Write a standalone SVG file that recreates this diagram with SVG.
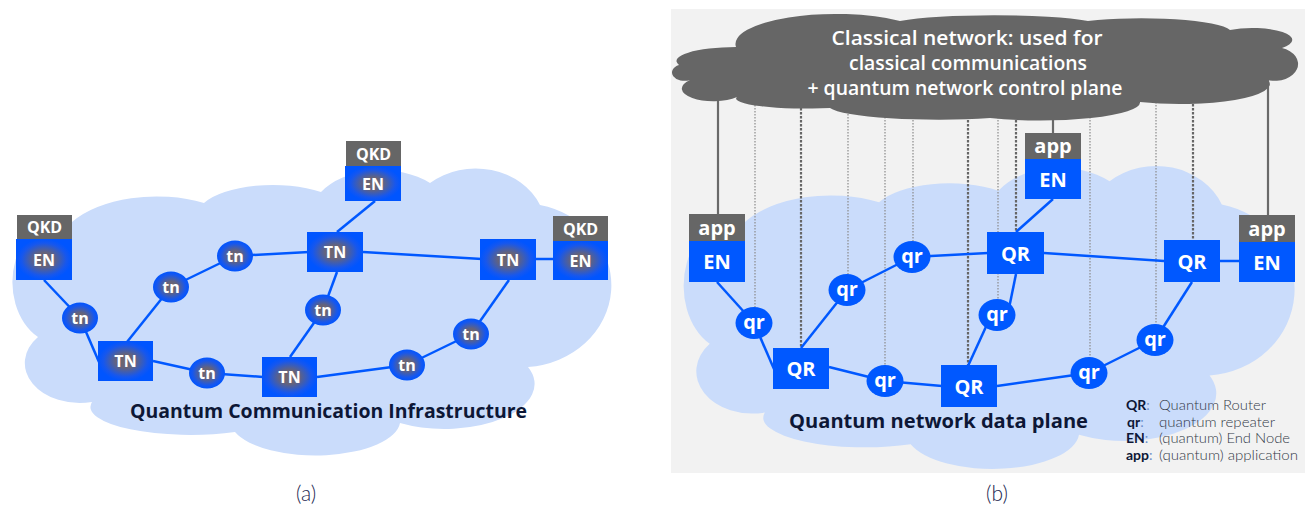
<svg xmlns="http://www.w3.org/2000/svg" xmlns:xlink="http://www.w3.org/1999/xlink" width="1305" height="508" viewBox="0 0 1305 508">
<style>
.cloud{fill:#cadcfb}
.link{stroke:#0058ff;stroke-width:2.5;fill:none}
.gbox{fill:url(#ng)}
.bbox{fill:#0058ff}
.tag{fill:#666666}
.t{font-family:"Open Sans","Noto Sans",sans-serif;font-weight:700;fill:#ffffff;text-anchor:middle;dominant-baseline:central}
.ta{font-size:16px}
.tb{font-size:20px}
.title{font-family:"Open Sans","Noto Sans",sans-serif;font-weight:700;font-size:20px;fill:#0d1736}
.ctext{font-family:"Open Sans","Noto Sans",sans-serif;font-weight:600;font-size:20px;fill:#ffffff;text-anchor:middle}
.dotA{stroke:#8a8a8a;stroke-width:1.2;stroke-dasharray:1.5 1.5;fill:none}
.dotB{stroke:#666666;stroke-width:2.2;stroke-dasharray:2.5 1.5;fill:none}
.solid{stroke:#6a6a6a;stroke-width:2.2;fill:none}
.lk{font-family:Lato,"Open Sans",sans-serif;font-weight:700;font-size:14px;fill:#0d1736}
.lc{fill:#6b8fc9;font-weight:400}
.ld{font-family:Lato,"Open Sans",sans-serif;font-weight:300;font-size:14px;fill:#333a48}
.cap{font-family:Lato,"Open Sans",sans-serif;font-weight:300;font-size:21px;fill:#1c2650;text-anchor:middle}
</style>
<defs>
<radialGradient id="ng" cx="0.5" cy="0.5" r="0.5">
<stop offset="0" stop-color="#716669"/>
<stop offset="0.35" stop-color="#64637c"/>
<stop offset="0.8" stop-color="#1657ee"/>
<stop offset="1" stop-color="#0055ff"/>
</radialGradient>
<path id="cloudShape" d="M38,337 A48,62 0 0 1 72,222 A100,55 0 0 1 204,203 A75,30 0 0 1 321,192 A70,45 0 0 1 430,183 A70,60 0 0 1 540,205 A90,82 0 0 1 528,367 A90,45 0 0 1 400,423 A85,35 0 0 1 235,432 A100,28 0 0 1 92,402 A55,40 0 0 1 38,337 Z"/>
</defs>

<!-- ===== Panel (a) ===== -->
<use href="#cloudShape" class="cloud"/>
<text class="title" x="130" y="418" textLength="397" lengthAdjust="spacingAndGlyphs">Quantum Communication Infrastructure</text>

<g id="links-a">
<path class="link" d="M44,280 L80,318"/>
<path class="link" d="M80,318 L99,362"/>
<path class="link" d="M127,342 L171,287"/>
<path class="link" d="M171,287 L235,256"/>
<path class="link" d="M235,256 L309,252"/>
<path class="link" d="M337,232 L375,201"/>
<path class="link" d="M363,252 L482,259"/>
<path class="link" d="M536,259 L555,259"/>
<path class="link" d="M337,272 L323,310"/>
<path class="link" d="M323,310 L290,357"/>
<path class="link" d="M153,361 L207,373"/>
<path class="link" d="M207,373 L263,377"/>
<path class="link" d="M317,377 L407,365"/>
<path class="link" d="M407,365 L471,334"/>
<path class="link" d="M471,334 L509,280"/>
</g>

<g id="a-en-left">
<rect class="tag" x="17" y="215" width="55" height="24"/>
<text class="t ta" x="44.5" y="227">QKD</text>
<rect class="gbox" x="16" y="239" width="56" height="41"/>
<text class="t ta" x="44" y="259.5">EN</text>
</g>
<g id="a-en-top">
<rect class="tag" x="346" y="141" width="55" height="25"/>
<text class="t ta" x="373.5" y="153.5">QKD</text>
<rect class="gbox" x="345" y="166" width="56" height="35"/>
<text class="t ta" x="373" y="183.5">EN</text>
</g>
<g id="a-en-right">
<rect class="tag" x="553" y="216" width="55" height="25"/>
<text class="t ta" x="580.5" y="228.5">QKD</text>
<rect class="gbox" x="553" y="241" width="55" height="39"/>
<text class="t ta" x="580.5" y="260.5">EN</text>
</g>
<g id="a-tn-ll"><rect class="gbox" x="98" y="341" width="55" height="40"/><text class="t ta" x="125.5" y="361">TN</text></g>
<g id="a-tn-top"><rect class="gbox" x="307" y="232" width="56" height="40"/><text class="t ta" x="335" y="252">TN</text></g>
<g id="a-tn-bot"><rect class="gbox" x="262" y="357" width="55" height="40"/><text class="t ta" x="289.5" y="377">TN</text></g>
<g id="a-tn-right"><rect class="gbox" x="480" y="239" width="56" height="41"/><text class="t ta" x="508" y="259.5">TN</text></g>
<g id="a-tn1"><ellipse class="gbox" cx="80" cy="318" rx="18" ry="15.5"/><text class="t ta" x="80" y="318">tn</text></g>
<g id="a-tn2"><ellipse class="gbox" cx="171" cy="287" rx="18" ry="15.5"/><text class="t ta" x="171" y="287">tn</text></g>
<g id="a-tn3"><ellipse class="gbox" cx="235" cy="256" rx="18" ry="15.5"/><text class="t ta" x="235" y="256">tn</text></g>
<g id="a-tn4"><ellipse class="gbox" cx="207" cy="373" rx="18" ry="15.5"/><text class="t ta" x="207" y="373">tn</text></g>
<g id="a-tn5"><ellipse class="gbox" cx="323" cy="310" rx="18" ry="15.5"/><text class="t ta" x="323" y="310">tn</text></g>
<g id="a-tn6"><ellipse class="gbox" cx="407" cy="365" rx="18" ry="15.5"/><text class="t ta" x="407" y="365">tn</text></g>
<g id="a-tn7"><ellipse class="gbox" cx="471" cy="334" rx="18" ry="15.5"/><text class="t ta" x="471" y="334">tn</text></g>

<text class="cap" x="306" y="501">(a)</text>

<!-- ===== Panel (b) ===== -->
<rect x="671" y="9" width="634" height="464" fill="#f2f2f2"/>
<use href="#cloudShape" class="cloud" transform="translate(671,-12) scale(1.02,1.056)"/>

<g id="control-links">
<path class="dotA" d="M755,60 L755,323"/>
<path class="dotB" d="M801,60 L801,360"/>
<path class="dotA" d="M848,60 L848,290"/>
<path class="dotA" d="M885,60 L885,381"/>
<path class="dotA" d="M913,60 L913,257"/>
<path class="dotB" d="M968,60 L968,380"/>
<path class="dotA" d="M998,60 L998,315"/>
<path class="dotB" d="M1016,60 L1016,250"/>
<path class="dotA" d="M1090,60 L1090,373"/>
<path class="dotA" d="M1156,60 L1156,340"/>
<path class="dotB" d="M1193,60 L1193,255"/>
<path class="solid" d="M718,60 L718,215"/>
<path class="solid" d="M1053,60 L1053,134"/>
<path class="solid" d="M1268,60 L1268,216"/>
</g>

<g id="classical-network">
<path fill="#666666" d="M679,65 A60,14 0 0 1 736,47 A100,30 0 0 1 900,21 A110,12 0 0 1 1088,21 A90,14 0 0 1 1230,30 A40,12 0 0 1 1282,48 A22,16 0 0 1 1268,80 A90,20 0 0 1 1140,102 A100,18 0 0 1 990,118 A110,14 0 0 1 830,108 A70,10 0 0 1 737,97 A30,12 0 0 1 690,80 A12,8 0 0 1 679,65 Z"/>
<text class="ctext" x="967" y="45" textLength="271" lengthAdjust="spacingAndGlyphs">Classical network: used for</text>
<text class="ctext" x="968" y="70" textLength="238" lengthAdjust="spacingAndGlyphs">classical communications</text>
<text class="ctext" x="965" y="95" textLength="315" lengthAdjust="spacingAndGlyphs">+ quantum network control plane</text>
</g>

<g id="links-b">
<path class="link" d="M717,282 L754,323"/>
<path class="link" d="M754,323 L774,369"/>
<path class="link" d="M801,348 L847,290"/>
<path class="link" d="M847,290 L912,257"/>
<path class="link" d="M912,257 L988,253"/>
<path class="link" d="M829,367 L885,381"/>
<path class="link" d="M885,381 L942,386"/>
<path class="link" d="M968,366 L990,318"/>
<path class="link" d="M1007,318 L1016,274"/>
<path class="link" d="M1016,232 L1053,199"/>
<path class="link" d="M1044,253 L1164,261"/>
<path class="link" d="M1220,261 L1239,261"/>
<path class="link" d="M1192,282 L1155,340"/>
<path class="link" d="M1155,340 L1089,373"/>
<path class="link" d="M1089,373 L997,386"/>
</g>

<text class="title" x="789" y="428" textLength="299" lengthAdjust="spacingAndGlyphs">Quantum network data plane</text>

<g id="b-en-left">
<rect class="tag" x="689" y="214" width="56" height="27"/>
<text class="t tb" x="717" y="227">app</text>
<rect class="bbox" x="689" y="241" width="56" height="41"/>
<text class="t tb" x="717" y="261.5">EN</text>
</g>
<g id="b-en-top">
<rect class="tag" x="1025" y="133" width="56" height="26"/>
<text class="t tb" x="1053" y="145.5">app</text>
<rect class="bbox" x="1025" y="159" width="56" height="40"/>
<text class="t tb" x="1053" y="179">EN</text>
</g>
<g id="b-en-right">
<rect class="tag" x="1239" y="215" width="56" height="27"/>
<text class="t tb" x="1267" y="228">app</text>
<rect class="bbox" x="1239" y="242" width="56" height="40"/>
<text class="t tb" x="1267" y="262">EN</text>
</g>
<g id="b-qr-ll"><rect class="bbox" x="773" y="348" width="56" height="41"/><text class="t tb" x="801" y="368.5">QR</text></g>
<g id="b-qr-bot"><rect class="bbox" x="941" y="365" width="56" height="42"/><text class="t tb" x="969" y="386">QR</text></g>
<g id="b-qr-top"><rect class="bbox" x="987" y="232" width="57" height="42"/><text class="t tb" x="1015.5" y="253">QR</text></g>
<g id="b-qr-right"><rect class="bbox" x="1164" y="240" width="56" height="42"/><text class="t tb" x="1192" y="261">QR</text></g>
<g id="b-r1"><ellipse class="bbox" cx="754" cy="323" rx="18.5" ry="16"/><text class="t tb" x="754" y="321">qr</text></g>
<g id="b-r2"><ellipse class="bbox" cx="847" cy="290" rx="18.5" ry="16"/><text class="t tb" x="847" y="288">qr</text></g>
<g id="b-r3"><ellipse class="bbox" cx="912" cy="257" rx="18.5" ry="16"/><text class="t tb" x="912" y="255">qr</text></g>
<g id="b-r4"><ellipse class="bbox" cx="885" cy="381" rx="18.5" ry="16"/><text class="t tb" x="885" y="379">qr</text></g>
<g id="b-r5"><ellipse class="bbox" cx="997" cy="315" rx="18.5" ry="16"/><text class="t tb" x="997" y="313">qr</text></g>
<g id="b-r6"><ellipse class="bbox" cx="1089" cy="373" rx="18.5" ry="16"/><text class="t tb" x="1089" y="371">qr</text></g>
<g id="b-r7"><ellipse class="bbox" cx="1155" cy="340" rx="18.5" ry="16"/><text class="t tb" x="1155" y="338">qr</text></g>

<g id="legend">
<text class="lk" x="1126" y="410">QR<tspan class="lc">:</tspan></text>
<text class="ld" x="1159" y="410" textLength="107" lengthAdjust="spacingAndGlyphs">Quantum Router</text>
<text class="lk" x="1127" y="426.5">qr<tspan class="lc">:</tspan></text>
<text class="ld" x="1159" y="426.5" textLength="116" lengthAdjust="spacingAndGlyphs">quantum repeater</text>
<text class="lk" x="1126" y="443">EN<tspan class="lc">:</tspan></text>
<text class="ld" x="1159" y="443" textLength="131" lengthAdjust="spacingAndGlyphs">(quantum) End Node</text>
<text class="lk" x="1126" y="459.5">app<tspan class="lc">:</tspan></text>
<text class="ld" x="1159" y="459.5" textLength="139" lengthAdjust="spacingAndGlyphs">(quantum) application</text>
</g>

<text class="cap" x="997" y="501">(b)</text>
</svg>
